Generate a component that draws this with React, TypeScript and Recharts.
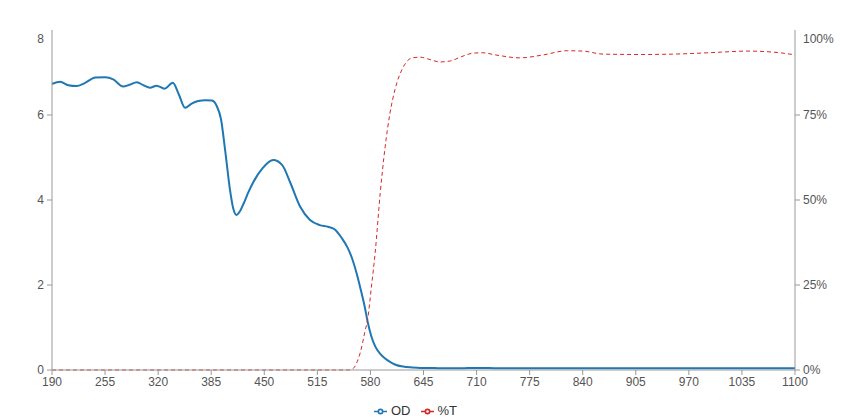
import React from 'react';
import { LineChart, Line, XAxis, YAxis, Legend } from 'recharts';

// wavelength (nm)
const wavelengths = [
  190, 200, 210, 220, 230, 243, 255, 265, 277, 285, 294, 302, 310, 318, 328, 338, 345, 353, 361, 369,
  378, 386, 392, 397, 402, 408, 412, 416, 420, 425, 430, 436, 448, 461, 472, 482, 494, 506, 518, 528, 536,
  545, 552, 558, 563, 568, 573, 577, 581, 586, 592, 598, 604, 610, 620, 631, 641, 653, 665, 678, 692,
  706, 717, 735, 763, 790, 821, 840, 865, 910, 950, 975, 1010, 1041, 1073, 1100,
];

const odValues = [
  6.73, 6.78, 6.7, 6.68, 6.75, 6.88, 6.89, 6.84, 6.67, 6.71, 6.77, 6.7, 6.64, 6.69, 6.62, 6.76, 6.5, 6.17, 6.27, 6.33,
  6.35, 6.34, 6.2, 5.9, 5.18, 4.24, 3.8, 3.65, 3.73, 3.93, 4.16, 4.4, 4.75, 4.94, 4.82, 4.4, 3.84, 3.53, 3.41, 3.37, 3.31,
  3.1, 2.88, 2.6, 2.28, 1.9, 1.49, 1.1, 0.8, 0.55, 0.38, 0.27, 0.19, 0.13, 0.08, 0.06, 0.05, 0.05, 0.04, 0.04, 0.04,
  0.05, 0.05, 0.04, 0.04, 0.04, 0.04, 0.04, 0.04, 0.04, 0.04, 0.04, 0.04, 0.04, 0.04, 0.04,
];

const transmission = [
  0, 0, 0, 0, 0, 0, 0, 0, 0, 0, 0, 0, 0, 0, 0, 0, 0, 0, 0, 0,
  0, 0, 0, 0, 0, 0, 0, 0, 0, 0, 0, 0, 0, 0, 0, 0, 0, 0, 0, 0, 0,
  0, 0, 0.3, 2, 5.5, 11, 15.6, 24, 35, 52, 65.6, 75.6, 82.4, 89, 91.8, 92, 91.3, 90.6, 90.9, 92.2,
  93.2, 93.3, 92.6, 91.8, 92.6, 93.9, 93.8, 92.9, 92.8, 92.9, 93.1, 93.5, 93.8, 93.5, 92.7,
];

const xTicks = [190, 255, 320, 385, 450, 515, 580, 645, 710, 775, 840, 905, 970, 1035, 1100];
const odTicks = [0, 2, 4, 6, 8];
const pctTicks = [0, 25, 50, 75, 100];

const data = wavelengths.map((wl, i) => ({ wl, OD: odValues[i], T: transmission[i] }));

const AXIS = '#999';
const TEXT = '#555';
const FONT = '"Liberation Sans", Arial, sans-serif';

const LeftTick = (props: any) => {
  const { x, y, payload } = props;
  const top = payload.value === 8;
  return (
    <g>
      {!top && <line x1={x + 3} x2={x + 8} y1={y} y2={y} stroke={AXIS} />}
      <text x={x} y={top ? y + 9 : y} dy="0.355em" textAnchor="end" fill={TEXT} fontSize={12} fontFamily={FONT}>
        {payload.value}
      </text>
    </g>
  );
};

const RightTick = (props: any) => {
  const { x, y, payload } = props;
  const top = payload.value === 100;
  return (
    <g>
      {!top && <line x1={x - 8} x2={x - 3} y1={y} y2={y} stroke={AXIS} />}
      <text x={x} y={top ? y + 9 : y} dy="0.355em" textAnchor="start" fill={TEXT} fontSize={12} fontFamily={FONT}>
        {payload.value}%
      </text>
    </g>
  );
};

export default function App() {
  return (
    <div style={{ position: 'absolute', left: 0, top: 0, background: '#fff' }}>
      <LineChart width={841} height={420} data={data} margin={{ top: 30, right: 0, bottom: 0, left: 0 }}>
        <XAxis
          dataKey="wl"
          type="number"
          domain={[190, 1100]}
          ticks={xTicks}
          height={26}
          tickSize={5}
          stroke={AXIS}
          tick={{ fill: TEXT, fontSize: 12, fontFamily: FONT }}
        />
        <YAxis
          yAxisId="left"
          domain={[0, 8]}
          ticks={odTicks}
          width={52}
          stroke={AXIS}
          tickLine={false}
          tick={<LeftTick />}
        />
        <YAxis
          yAxisId="right"
          orientation="right"
          domain={[0, 100]}
          ticks={pctTicks}
          width={46}
          stroke={AXIS}
          tickLine={false}
          tick={<RightTick />}
        />
        <Legend
          verticalAlign="bottom"
          height={24}
          iconSize={13}
          itemSorter="dataKey"
          wrapperStyle={{ fontFamily: FONT, fontSize: 13, bottom: -7 }}
          formatter={(value: string) => <span style={{ color: '#333' }}>{value}</span>}
        />
        <Line
          yAxisId="left"
          name="OD"
          dataKey="OD"
          type="monotone"
          stroke="#1f77b4"
          strokeWidth={2}
          dot={false}
          isAnimationActive={false}
        />
        <Line
          yAxisId="right"
          name="%T"
          dataKey="T"
          type="monotone"
          stroke="#d62728"
          strokeWidth={1}
          strokeDasharray="4 3"
          dot={false}
          isAnimationActive={false}
        />
      </LineChart>
    </div>
  );
}
